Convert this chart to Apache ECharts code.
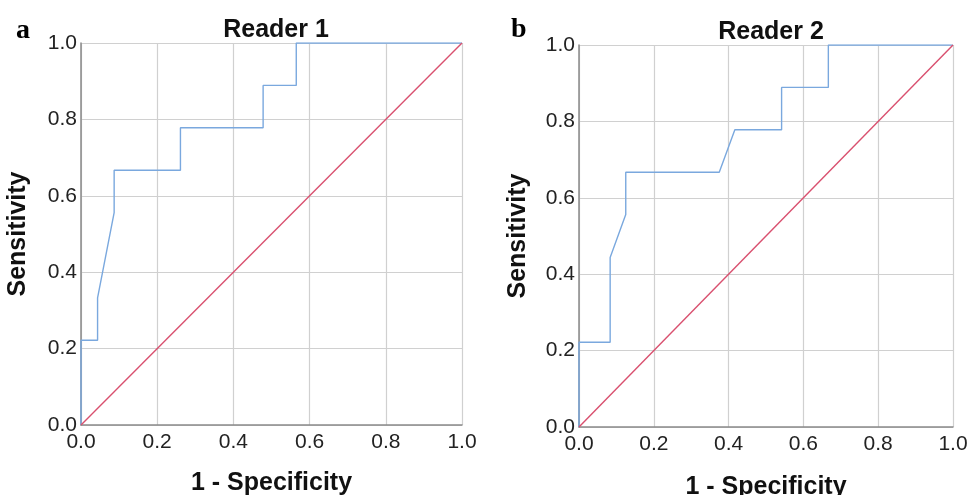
<!DOCTYPE html>
<html>
<head>
<meta charset="utf-8">
<script src="https://cdn.jsdelivr.net/npm/echarts@6/dist/echarts.min.js"></script>
<style>html,body{margin:0;padding:0;background:#fff}#c{width:969px;height:495px}</style>
</head>
<body>
<div id="c"></div>
<script>
// Reader 1 ROC curve: [1 - specificity, sensitivity]
const reader1FPR = [0, 0, 0.0435, 0.0435, 0.087, 0.087, 0.261, 0.261, 0.478, 0.478, 0.565, 0.565, 1.0];
const reader1TPR = [0, 0.222, 0.222, 0.333, 0.556, 0.667, 0.667, 0.778, 0.778, 0.889, 0.889, 1.0, 1.0];
// Reader 2 ROC curve
const reader2FPR = [0, 0, 0.0833, 0.0833, 0.125, 0.125, 0.375, 0.4167, 0.5417, 0.5417, 0.6667, 0.6667, 1.0];
const reader2TPR = [0, 0.222, 0.222, 0.444, 0.556, 0.667, 0.667, 0.778, 0.778, 0.889, 0.889, 1.0, 1.0];
// Reference line
const refX = [0, 1];
const refY = [0, 1];
const panelTitles = ['Reader 1', 'Reader 2'];
const panelLetters = ['a', 'b'];
const xName = '1 - Specificity';
const yName = 'Sensitivity';

const zip = (a, b) => a.map((v, i) => [v, b[i]]);
const font = 'Liberation Sans, Arial, sans-serif';
const blue = '#7aa8de';
const red = '#d9506f';

function xAx(gi, gap) {
  return {
    type: 'value', gridIndex: gi, min: 0, max: 1, interval: 0.2,
    name: xName, nameLocation: 'middle', nameGap: gap,
    nameTextStyle: { fontFamily: font, fontSize: 25, fontWeight: 'bold', color: '#111' },
    axisLine: { show: true, lineStyle: { color: '#8a8a8a', width: 1.5 } },
    axisTick: { show: false },
    axisLabel: { fontFamily: font, fontSize: 21, color: '#222', margin: 7, formatter: v => v.toFixed(1) },
    splitLine: { show: true, lineStyle: { color: '#d0d0d0', width: 1.2 } }
  };
}
function yAx(gi, gap) {
  return {
    type: 'value', gridIndex: gi, min: 0, max: 1, interval: 0.2,
    name: yName, nameLocation: 'middle', nameGap: gap,
    nameTextStyle: { fontFamily: font, fontSize: 25, fontWeight: 'bold', color: '#111' },
    axisLine: { show: true, lineStyle: { color: '#8a8a8a', width: 1.5 } },
    axisTick: { show: false },
    axisLabel: { fontFamily: font, fontSize: 21, color: '#222', margin: 4, formatter: v => v.toFixed(1) },
    splitLine: { show: true, lineStyle: { color: '#d0d0d0', width: 1.2 } }
  };
}
function lineSeries(xi, data, color) {
  return {
    type: 'line', xAxisIndex: xi, yAxisIndex: xi, data: data,
    showSymbol: false, symbol: 'none', animation: false,
    lineStyle: { color: color, width: 1.4 }, z: 3
  };
}

const chart = echarts.init(document.getElementById('c'), null, { renderer: 'canvas' });
chart.setOption({
  backgroundColor: '#fff',
  animation: false,
  title: [
    { text: panelTitles[0], left: 271, top: 13, textAlign: 'center',
      textStyle: { fontFamily: font, fontSize: 25, fontWeight: 'bold', color: '#111' } },
    { text: panelTitles[1], left: 766, top: 15, textAlign: 'center',
      textStyle: { fontFamily: font, fontSize: 25, fontWeight: 'bold', color: '#111' } }
  ],
  graphic: [
    { type: 'text', left: 16, top: 17, style: { text: panelLetters[0], font: 'bold 28px "Liberation Serif", "Times New Roman", serif', fill: '#000' } },
    { type: 'text', left: 511, top: 16, style: { text: panelLetters[1], font: 'bold 28px "Liberation Serif", "Times New Roman", serif', fill: '#000' } }
  ],
  grid: [
    { left: 81, top: 43, width: 381, height: 382, outerBoundsMode: 'none', containLabel: false },
    { left: 579, top: 45, width: 374, height: 382, outerBoundsMode: 'none', containLabel: false }
  ],
  xAxis: [xAx(0, 46), xAx(1, 48)],
  yAxis: [yAx(0, 50), yAx(1, 48)],
  series: [
    lineSeries(0, zip(reader1FPR, reader1TPR), blue),
    lineSeries(0, zip(refX, refY), red),
    lineSeries(1, zip(reader2FPR, reader2TPR), blue),
    lineSeries(1, zip(refX, refY), red)
  ]
});
</script>
</body>
</html>
